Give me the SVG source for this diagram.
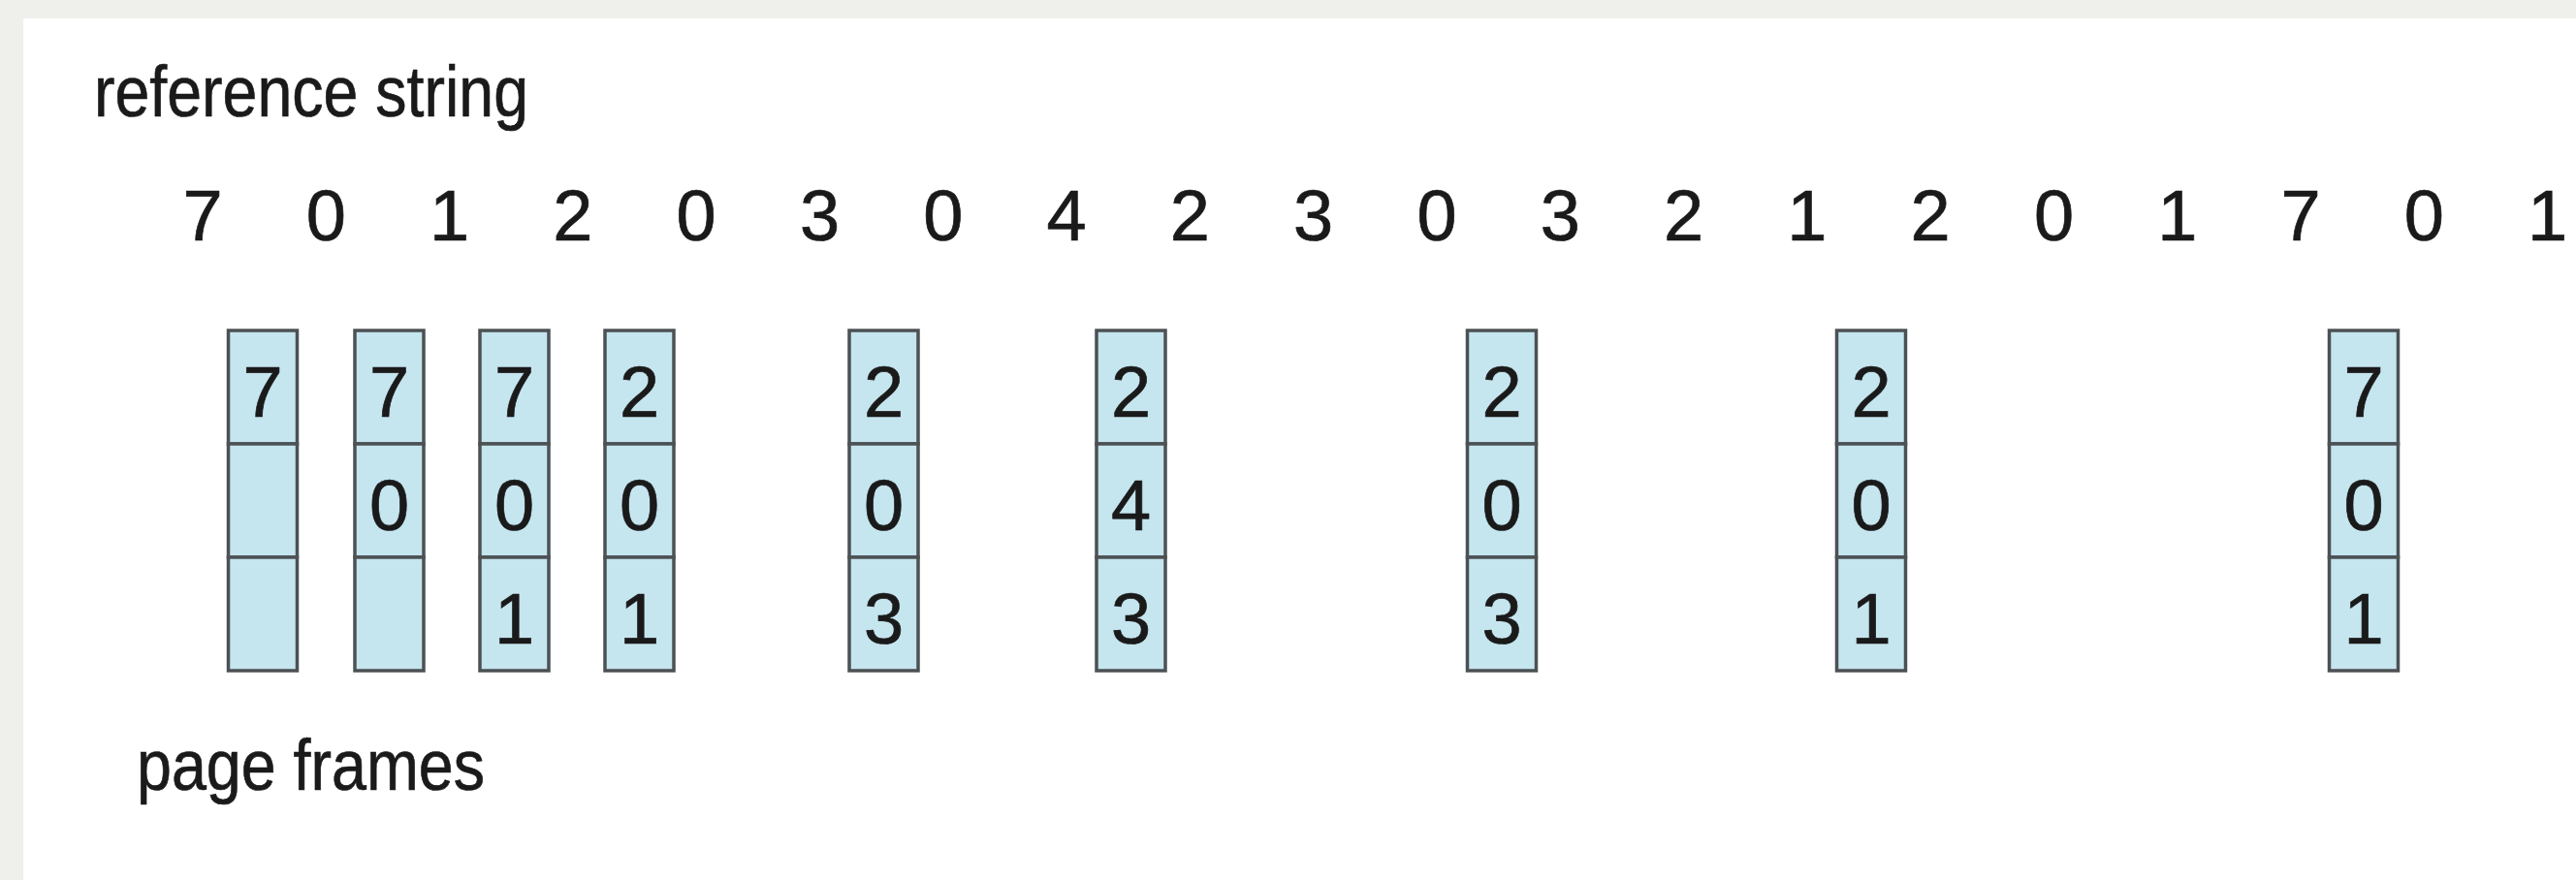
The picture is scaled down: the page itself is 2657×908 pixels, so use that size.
<svg xmlns="http://www.w3.org/2000/svg" width="2657" height="908" viewBox="0 0 2657 908">
<style>
.t{font-family:"Liberation Sans",Arial,sans-serif;fill:#1a1a1a;stroke:#1a1a1a;stroke-width:0.7}
.lbl{font-size:74px}
.dg{font-size:74px;text-anchor:middle}
.cell{fill:#c5e5ef;stroke:#4c5154;stroke-width:3.5}
</style>
<rect x="0" y="0" width="2657" height="908" fill="#efefec"/>
<rect x="24" y="19" width="2633" height="889" fill="#ffffff"/>
<g id="label-reference-string">
<text class="t lbl" x="97" y="120" textLength="448" lengthAdjust="spacingAndGlyphs">reference string</text>
</g>
<g id="reference-string">
<text class="t dg" x="209" y="248">7</text>
<text class="t dg" x="336.3" y="248">0</text>
<text class="t dg" x="463.6" y="248">1</text>
<text class="t dg" x="590.9" y="248">2</text>
<text class="t dg" x="718.2" y="248">0</text>
<text class="t dg" x="845.5" y="248">3</text>
<text class="t dg" x="972.8" y="248">0</text>
<text class="t dg" x="1100.1" y="248">4</text>
<text class="t dg" x="1227.4" y="248">2</text>
<text class="t dg" x="1354.7" y="248">3</text>
<text class="t dg" x="1482" y="248">0</text>
<text class="t dg" x="1609.3" y="248">3</text>
<text class="t dg" x="1736.6" y="248">2</text>
<text class="t dg" x="1863.9" y="248">1</text>
<text class="t dg" x="1991.2" y="248">2</text>
<text class="t dg" x="2118.5" y="248">0</text>
<text class="t dg" x="2245.8" y="248">1</text>
<text class="t dg" x="2373.1" y="248">7</text>
<text class="t dg" x="2500.4" y="248">0</text>
<text class="t dg" x="2627.7" y="248">1</text>
</g>
<g id="frame-1" transform="translate(234,0)">
<rect class="cell" x="1.5" y="341" width="71" height="117"/><rect class="cell" x="1.5" y="458" width="71" height="117"/><rect class="cell" x="1.5" y="575" width="71" height="117"/>
<text class="t dg" x="37" y="430">7</text>
</g>
<g id="frame-2" transform="translate(364.5,0)">
<rect class="cell" x="1.5" y="341" width="71" height="117"/><rect class="cell" x="1.5" y="458" width="71" height="117"/><rect class="cell" x="1.5" y="575" width="71" height="117"/>
<text class="t dg" x="37" y="430">7</text><text class="t dg" x="37" y="547">0</text>
</g>
<g id="frame-3" transform="translate(493.5,0)">
<rect class="cell" x="1.5" y="341" width="71" height="117"/><rect class="cell" x="1.5" y="458" width="71" height="117"/><rect class="cell" x="1.5" y="575" width="71" height="117"/>
<text class="t dg" x="37" y="430">7</text><text class="t dg" x="37" y="547">0</text><text class="t dg" x="37" y="664">1</text>
</g>
<g id="frame-4" transform="translate(622.5,0)">
<rect class="cell" x="1.5" y="341" width="71" height="117"/><rect class="cell" x="1.5" y="458" width="71" height="117"/><rect class="cell" x="1.5" y="575" width="71" height="117"/>
<text class="t dg" x="37" y="430">2</text><text class="t dg" x="37" y="547">0</text><text class="t dg" x="37" y="664">1</text>
</g>
<g id="frame-5" transform="translate(874.5,0)">
<rect class="cell" x="1.5" y="341" width="71" height="117"/><rect class="cell" x="1.5" y="458" width="71" height="117"/><rect class="cell" x="1.5" y="575" width="71" height="117"/>
<text class="t dg" x="37" y="430">2</text><text class="t dg" x="37" y="547">0</text><text class="t dg" x="37" y="664">3</text>
</g>
<g id="frame-6" transform="translate(1129.5,0)">
<rect class="cell" x="1.5" y="341" width="71" height="117"/><rect class="cell" x="1.5" y="458" width="71" height="117"/><rect class="cell" x="1.5" y="575" width="71" height="117"/>
<text class="t dg" x="37" y="430">2</text><text class="t dg" x="37" y="547">4</text><text class="t dg" x="37" y="664">3</text>
</g>
<g id="frame-7" transform="translate(1512,0)">
<rect class="cell" x="1.5" y="341" width="71" height="117"/><rect class="cell" x="1.5" y="458" width="71" height="117"/><rect class="cell" x="1.5" y="575" width="71" height="117"/>
<text class="t dg" x="37" y="430">2</text><text class="t dg" x="37" y="547">0</text><text class="t dg" x="37" y="664">3</text>
</g>
<g id="frame-8" transform="translate(1893,0)">
<rect class="cell" x="1.5" y="341" width="71" height="117"/><rect class="cell" x="1.5" y="458" width="71" height="117"/><rect class="cell" x="1.5" y="575" width="71" height="117"/>
<text class="t dg" x="37" y="430">2</text><text class="t dg" x="37" y="547">0</text><text class="t dg" x="37" y="664">1</text>
</g>
<g id="frame-9" transform="translate(2401,0)">
<rect class="cell" x="1.5" y="341" width="71" height="117"/><rect class="cell" x="1.5" y="458" width="71" height="117"/><rect class="cell" x="1.5" y="575" width="71" height="117"/>
<text class="t dg" x="37" y="430">7</text><text class="t dg" x="37" y="547">0</text><text class="t dg" x="37" y="664">1</text>
</g>
<g id="label-page-frames">
<text class="t lbl" x="141" y="815" textLength="359" lengthAdjust="spacingAndGlyphs">page frames</text>
</g>
<g id="connectors"></g>
</svg>
